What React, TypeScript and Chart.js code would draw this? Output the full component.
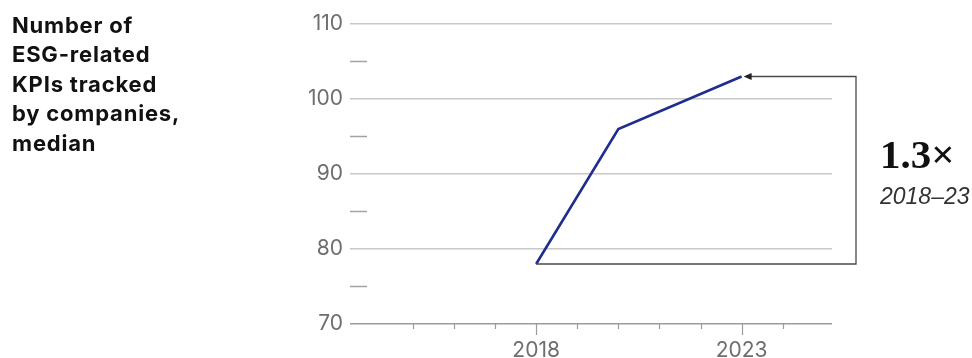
import React, { useEffect, useRef } from "react";
import { Chart, registerables } from "chart.js";

Chart.register(...registerables);

// ---- data ----
const years = [2018, 2020, 2023];
const kpiMedian = [78, 96, 103];
const xLabelYears = [2018, 2023];
const titleLines = ["Number of", "ESG-related", "KPIs tracked", "by companies,", "median"];
const growthLabel = "1.3×";
const growthPeriod = "2018–23";

// ---- axis config ----
const xMin = 2013.47;
const xMax = 2025.2;
const yMin = 70;
const yMax = 110;
const yStep = 10;

const decorPlugin = {
  id: "decor",
  afterDatasetsDraw(chart: any) {
    const { ctx, chartArea, scales } = chart;
    const x = scales.x;
    const y = scales.y;
    ctx.save();
    // minor y dashes between labelled ticks
    ctx.strokeStyle = "#a3a3a3";
    ctx.lineWidth = 1.5;
    const yt = y.ticks.map((t: any) => t.value);
    for (let i = 0; i < yt.length - 1; i++) {
      const v = (yt[i] + yt[i + 1]) / 2;
      const py = y.getPixelForValue(v);
      ctx.beginPath();
      ctx.moveTo(chartArea.left, py);
      ctx.lineTo(chartArea.left + 17, py);
      ctx.stroke();
    }
    // x ticks below baseline
    const base = y.getPixelForValue(yMin);
    ctx.strokeStyle = "#9c9c9c";
    ctx.lineWidth = 1.2;
    for (const t of x.ticks) {
      if (!Number.isInteger(t.value)) continue;
      const major = xLabelYears.includes(t.value);
      const px = Math.round(x.getPixelForValue(t.value)) + 0.5;
      ctx.beginPath();
      ctx.moveTo(px, base);
      ctx.lineTo(px, base + (major ? 11 : 5));
      ctx.stroke();
    }
    // growth bracket
    const x0 = x.getPixelForValue(years[0]);
    const y0 = y.getPixelForValue(kpiMedian[0]);
    const x1 = x.getPixelForValue(years[years.length - 1]);
    const y1 = y.getPixelForValue(kpiMedian[kpiMedian.length - 1]);
    const bx = chartArea.right + 24;
    ctx.strokeStyle = "#4a4a4a";
    ctx.lineWidth = 1.3;
    ctx.beginPath();
    ctx.moveTo(x0, y0);
    ctx.lineTo(bx, y0);
    ctx.lineTo(bx, y1);
    ctx.lineTo(x1 + 8, y1);
    ctx.stroke();
    ctx.fillStyle = "#222";
    ctx.beginPath();
    ctx.moveTo(x1 + 2, y1);
    ctx.lineTo(x1 + 10, y1 - 3.5);
    ctx.lineTo(x1 + 10, y1 + 3.5);
    ctx.closePath();
    ctx.fill();
    ctx.restore();
  },
};

export default function App() {
  const canvasRef = useRef<HTMLCanvasElement | null>(null);

  useEffect(() => {
    if (!canvasRef.current) return;
    const tickFont = { family: "Inter", size: 21 };
    const chart = new Chart(canvasRef.current, {
      type: "line",
      data: {
        datasets: [
          {
            data: years.map((yr, i) => ({ x: yr, y: kpiMedian[i] })),
            borderColor: "#1f2d8c",
            borderWidth: 2.6,
            pointRadius: 0,
            tension: 0,
            fill: false,
          },
        ],
      },
      options: {
        animation: false,
        responsive: false,
        maintainAspectRatio: false,
        layout: { padding: { top: 24, right: 140, bottom: 0, left: 0 } },
        plugins: { legend: { display: false }, tooltip: { enabled: false } },
        scales: {
          x: {
            type: "linear",
            min: xMin,
            max: xMax,
            grid: { display: false, drawTicks: false },
            border: { display: false },
            ticks: {
              stepSize: 1,
              autoSkip: false,
              maxRotation: 0,
              padding: 14,
              color: "#6e6e6e",
              font: tickFont,
              callback: (v: any) => (xLabelYears.includes(Number(v)) ? String(v) : ""),
            },
            afterFit: (s: any) => {
              s.height = 34;
            },
          },
          y: {
            min: yMin,
            max: yMax,
            grid: {
              drawTicks: false,
              lineWidth: 1.5,
              color: (c: any) => (c.tick && c.tick.value === yMin ? "#9c9c9c" : "#c8c8c8"),
            },
            border: { display: false },
            ticks: {
              stepSize: yStep,
              padding: 7,
              color: "#6e6e6e",
              font: tickFont,
              callback: (v: any) => String(v),
            },
            afterFit: (s: any) => {
              s.width = 350;
            },
          },
        },
      },
      plugins: [decorPlugin],
    });
    return () => chart.destroy();
  }, []);

  return (
    <div style={{ position: "fixed", left: 0, top: 0, width: 972, height: 358, background: "#fff" }}>
      <canvas ref={canvasRef} width={972} height={358} style={{ position: "absolute", left: 0, top: 0 }} />
      <div
        style={{
          position: "absolute",
          left: 12,
          top: 10.5,
          fontFamily: "Inter, sans-serif",
          fontWeight: 700,
          fontSize: 22,
          lineHeight: "29.5px",
          letterSpacing: 0.8,
          color: "#111",
          whiteSpace: "nowrap",
        }}
      >
        {titleLines.map((l, i) => (
          <div key={i}>{l}</div>
        ))}
      </div>
      <div
        style={{
          position: "absolute",
          left: 880,
          top: 133.7,
          fontFamily: "'Liberation Serif', serif",
          fontWeight: 700,
          fontSize: 41,
          lineHeight: "41px",
          color: "#111",
          whiteSpace: "nowrap",
        }}
      >
        {growthLabel}
      </div>
      <div
        style={{
          position: "absolute",
          left: 880,
          top: 184.5,
          fontFamily: "'Liberation Sans', sans-serif",
          fontStyle: "italic",
          fontSize: 23,
          lineHeight: "23px",
          color: "#333",
          whiteSpace: "nowrap",
        }}
      >
        {growthPeriod}
      </div>
    </div>
  );
}
